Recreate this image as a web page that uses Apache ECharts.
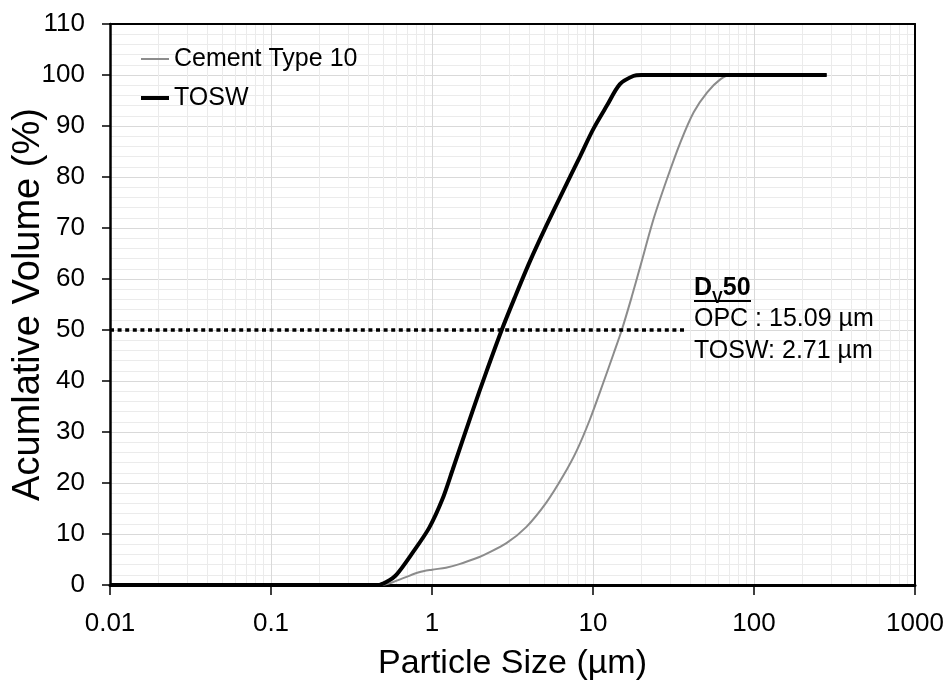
<!DOCTYPE html>
<html>
<head>
<meta charset="utf-8">
<script src="https://cdn.jsdelivr.net/npm/echarts@6/dist/echarts.min.js"></script>
<style>
html,body{margin:0;padding:0;background:#fff;}
#chart{width:952px;height:687px;}
</style>
</head>
<body>
<div id="chart"></div>
<script>
// ---- data ----
const cementSize = [0.01, 0.49, 0.656, 0.83, 1.0, 1.22, 1.48, 1.97, 2.17, 2.9, 3.86, 5.14, 6.53, 7.91, 9.58, 11.6, 13.4, 15.09, 17.4, 19.6, 23.8, 28.8, 34.9, 42.2, 51.2, 62, 71.6, 100, 283];
const cementVol  = [0, 0, 1.3, 2.5, 3.0, 3.4, 4.1, 5.5, 6.1, 8.2, 11.4, 16.2, 21.4, 26.3, 32.5, 39.7, 45.3, 50, 56.5, 62.3, 71.8, 79.6, 86.8, 92.7, 96.6, 99.2, 100, 100, 100];

const toswSize = [0.01, 0.46, 0.52, 0.6, 0.76, 0.96, 1.16, 1.34, 1.79, 2.17, 2.71, 3.26, 4.05, 5.14, 6.53, 8.3, 10, 12.2, 14.7, 17.8, 20, 50, 100, 283];
const toswVol  = [0, 0, 0.6, 2.0, 6.4, 11.2, 16.8, 22.5, 34.2, 41.7, 50, 56.3, 63.4, 70.5, 77.3, 84.0, 89.3, 94, 98.2, 99.8, 100, 100, 100, 100];

const d50LineSize = [0.01, 37.5];
const d50LineVol  = [50, 50];

const seriesNames = ['Cement Type 10', 'TOSW'];
const xTickLabels = ['0.01', '0.1', '1', '10', '100', '1000'];
const xMin = 0.01, xMax = 1000;
const yMin = 0, yMax = 110, yInterval = 10;

const annoTitle = ['D', 'V', '50'];
const annoLines = ['OPC : 15.09 µm', 'TOSW: 2.71 µm'];

// ---- helpers ----
const zip = (xs, ys) => xs.map((x, i) => [x, ys[i]]);
const minorX = [];
for (let e = -2; e < 3; e++) {
  for (let m = 2; m <= 9; m++) minorX.push(+(m * Math.pow(10, e)).toPrecision(3));
}

const FONT = '"Liberation Sans", Arial, sans-serif';
const chart = echarts.init(document.getElementById('chart'), null, {renderer: 'canvas'});

const option = {
  animation: false,
  backgroundColor: '#fff',
  textStyle: {fontFamily: FONT, color: '#000'},
  grid: {left: 110, right: 37, top: 24, bottom: 102, outerBoundsMode: 'none', containLabel: false, show: false},
  legend: {
    orient: 'vertical', left: 127, top: 39, z: 20,
    itemWidth: 37, itemHeight: 14, itemGap: 9,
    data: [
      {name: seriesNames[0], icon: 'path://M0,0M9,6H37V8H9ZM37,14', itemStyle: {color: '#8c8c8c'}},
      {name: seriesNames[1], icon: 'path://M0,0M9,5H37V9H9ZM37,14', itemStyle: {color: '#000'}}
    ],
    textStyle: {fontSize: 25, color: '#000', fontFamily: FONT, lineHeight: 30}
  },
  xAxis: [{
    type: 'log', logBase: 10, min: xMin, max: xMax,
    name: 'Particle Size (µm)', nameLocation: 'middle', nameGap: 62, nameMoveOverlap: false,
    nameTextStyle: {fontSize: 34, color: '#000', fontFamily: FONT},
    axisLine: {show: true, onZero: false, lineStyle: {color: '#000', width: 3}},
    axisTick: {show: true, inside: false, length: 10, lineStyle: {color: '#000', width: 1.5}},
    axisLabel: {fontSize: 26, color: '#000', margin: 26, fontFamily: FONT,
      formatter: v => { const s = +(+v).toPrecision(3); const str = String(s); return xTickLabels.includes(str) ? str : ''; }},
    splitLine: {show: true, lineStyle: {color: '#d9d9d9', width: 1}},
    minorTick: {show: false}
  }, {
    type: 'log', logBase: 10, min: xMin, max: xMax, position: 'top',
    axisLine: {show: true, onZero: false, lineStyle: {color: '#000', width: 2}},
    axisTick: {show: false}, axisLabel: {show: false}, splitLine: {show: false}
  }],
  yAxis: [{
    type: 'value', min: yMin, max: yMax, interval: yInterval,
    name: 'Acumlative Volume (%)', nameLocation: 'middle', nameGap: 62, nameRotate: 90, nameMoveOverlap: false,
    nameTextStyle: {fontSize: 38, color: '#000', fontFamily: FONT},
    axisLine: {show: true, lineStyle: {color: '#000', width: 2.5}},
    axisTick: {show: true, inside: false, length: 8, lineStyle: {color: '#000', width: 1.5}},
    axisLabel: {fontSize: 26, color: '#000', margin: 25, fontFamily: FONT},
    splitLine: {show: true, lineStyle: {color: '#d9d9d9', width: 1}},
    minorTick: {show: false, splitNumber: 5},
    minorSplitLine: {show: true, lineStyle: {color: '#ebebeb', width: 1}}
  }, {
    type: 'value', min: yMin, max: yMax, interval: yInterval, position: 'right',
    axisLine: {show: true, onZero: false, lineStyle: {color: '#000', width: 2}},
    axisTick: {show: false}, axisLabel: {show: false}, splitLine: {show: false}
  }],
  series: [
    {
      name: '__minorgrid', type: 'line', data: [], silent: true, z: 0,
      markLine: {
        z: 0, silent: true, symbol: ['none', 'none'], animation: false,
        label: {show: false},
        lineStyle: {color: '#ebebeb', width: 1, type: 'solid'},
        emphasis: {disabled: true},
        data: minorX.map(v => ({xAxis: v}))
      }
    },
    {
      name: seriesNames[0], type: 'line', data: zip(cementSize, cementVol),
      showSymbol: false, symbol: 'none', smooth: 0.3, z: 3,
      lineStyle: {color: '#8c8c8c', width: 2}, itemStyle: {color: '#8c8c8c'}
    },
    {
      name: seriesNames[1], type: 'line', data: zip(toswSize, toswVol),
      showSymbol: false, symbol: 'none', smooth: 0.3, z: 4,
      lineStyle: {color: '#000', width: 4}, itemStyle: {color: '#000'}
    },
    {
      name: '__d50', type: 'line', data: zip(d50LineSize, d50LineVol),
      showSymbol: false, symbol: 'none', z: 5,
      lineStyle: {color: '#000', width: 3.5, type: [4, 3.6], cap: 'butt'}
    }
  ],
  graphic: [
    {type: 'text', left: 694, top: 276, z: 10,
      style: {text: '{b|' + annoTitle[0] + '}{s|' + annoTitle[1] + '}{b|' + annoTitle[2] + '}',
        rich: {
          b: {fontSize: 25, fontWeight: 'bold', fontFamily: FONT, fill: '#000', color: '#000', verticalAlign: 'bottom', lineHeight: 25},
          s: {fontSize: 16, fontWeight: 'bold', fontFamily: FONT, fill: '#000', color: '#000', verticalAlign: 'bottom', lineHeight: 16, padding: [0, 0, -6, 0]}
        }}},
    {type: 'rect', left: 694, top: 300, z: 10, shape: {width: 57, height: 2}, style: {fill: '#000'}},
    {type: 'text', left: 694, top: 307, z: 10, style: {text: annoLines[0], fontSize: 25, fontFamily: FONT, fill: '#000'}},
    {type: 'text', left: 694, top: 339, z: 10, style: {text: annoLines[1], fontSize: 25, fontFamily: FONT, fill: '#000'}}
  ]
};
chart.setOption(option);
</script>
</body>
</html>
